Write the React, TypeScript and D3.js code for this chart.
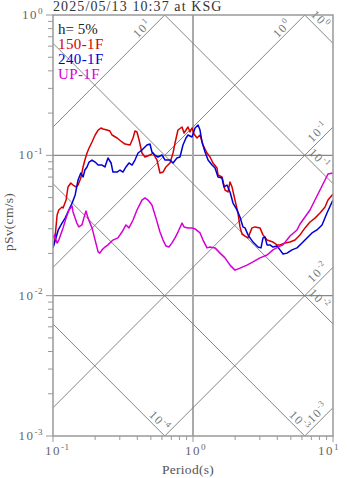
import React from "react"
import * as d3 from "d3"

// title / legend
const title = "2025/05/13 10:37 at KSG"
const dampingLabel = "h= 5%"
const seriesNames = ["150-1F", "240-1F", "UP-1F"]
const seriesColors = ["#d60000", "#0000d6", "#d600d6"]

// 150-1F (period s, pSv cm/s)
const period150 = [0.1, 0.103, 0.107, 0.110, 0.116, 0.118, 0.124, 0.128, 0.134, 0.139,
    0.146, 0.151, 0.158, 0.164, 0.169, 0.175, 0.181, 0.190, 0.200, 0.210,
    0.220, 0.228, 0.243, 0.255, 0.264, 0.287, 0.311, 0.327, 0.355, 0.373,
    0.385, 0.398, 0.412, 0.432, 0.454, 0.493, 0.518, 0.553, 0.581, 0.611,
    0.641, 0.685, 0.720, 0.744, 0.781, 0.835, 0.863, 0.921, 0.952, 0.984,
    1.017, 1.068, 1.122, 1.179, 1.259, 1.323, 1.389, 1.484, 1.509, 1.611,
    1.693, 1.778, 1.838, 1.900, 1.995, 2.096, 2.166, 2.239, 2.352, 2.471,
    2.639, 2.773, 3.010, 3.162, 3.379, 3.548, 3.728, 3.981, 4.182, 4.541,
    4.930, 5.354, 5.812, 6.310, 6.850, 7.437, 8.074, 8.770, 9.211, 10]
const sv150 = [0.0222, 0.0249, 0.0376, 0.0408, 0.0428, 0.0421, 0.048, 0.0595, 0.0635, 0.0614,
    0.0595, 0.0614, 0.0689, 0.0826, 0.0926, 0.1039, 0.1128, 0.1245, 0.1396, 0.1515,
    0.1566, 0.154, 0.1515, 0.149, 0.1396, 0.1329, 0.1245, 0.1204, 0.1185, 0.1329,
    0.149, 0.1466, 0.1286, 0.1039, 0.0973, 0.1005, 0.1039, 0.0926, 0.0748, 0.076,
    0.0826, 0.0882, 0.1039, 0.1224, 0.1515, 0.1592, 0.1442, 0.1592, 0.1466, 0.1566,
    0.1419, 0.1329, 0.1396, 0.1185, 0.1039, 0.0973, 0.0882, 0.0812, 0.0724, 0.0701,
    0.0566, 0.0548, 0.0646, 0.0595, 0.048, 0.0388, 0.0309, 0.0275, 0.0266, 0.0258,
    0.0304, 0.0309, 0.0304, 0.0271, 0.0249, 0.0245, 0.0241, 0.023, 0.023, 0.0237,
    0.0241, 0.0249, 0.0271, 0.0304, 0.0335, 0.0357, 0.0388, 0.0428, 0.048, 0.053]

// 240-1F
const period240 = [0.1, 0.103, 0.109, 0.116, 0.122, 0.128, 0.137, 0.144, 0.151, 0.158,
    0.164, 0.169, 0.175, 0.181, 0.190, 0.200, 0.210, 0.224, 0.235, 0.247,
    0.260, 0.268, 0.287, 0.301, 0.316, 0.332, 0.349, 0.367, 0.385, 0.405,
    0.432, 0.469, 0.493, 0.509, 0.534, 0.562, 0.602, 0.632, 0.685, 0.720,
    0.768, 0.807, 0.848, 0.891, 0.921, 0.984, 1.034, 1.087, 1.122, 1.160,
    1.219, 1.281, 1.368, 1.437, 1.509, 1.611, 1.665, 1.749, 1.838, 1.931,
    2.061, 2.166, 2.275, 2.352, 2.471, 2.683, 2.912, 3.060, 3.162, 3.268,
    3.379, 3.548, 3.728, 3.981, 4.182, 4.394, 4.693, 5.094, 5.533, 6.008,
    6.52, 7.08, 7.68, 8.35, 9.06, 9.84, 10]
const sv240 = [0.0219, 0.0241, 0.0294, 0.0329, 0.0357, 0.0395, 0.0457, 0.0522, 0.0667, 0.0748,
    0.0701, 0.0786, 0.0826, 0.0896, 0.0926, 0.0896, 0.0853, 0.0853, 0.0826, 0.0957,
    0.0882, 0.076, 0.076, 0.0786, 0.076, 0.0826, 0.0882, 0.0853, 0.0926, 0.1039,
    0.1091, 0.1185, 0.1204, 0.1056, 0.1005, 0.0973, 0.1005, 0.0926, 0.0926, 0.0882,
    0.0957, 0.0973, 0.1185, 0.1329, 0.1396, 0.1351, 0.1566, 0.1645, 0.1515, 0.1245,
    0.1056, 0.0926, 0.0853, 0.0812, 0.0701, 0.0689, 0.0595, 0.0614, 0.0548, 0.0457,
    0.0408, 0.0363, 0.0309, 0.0304, 0.0271, 0.0241, 0.0222, 0.0219, 0.0258, 0.0262,
    0.023, 0.023, 0.0222, 0.0226, 0.0212, 0.0198, 0.0201, 0.0212, 0.0219, 0.0237,
    0.0258, 0.028, 0.0294, 0.0319, 0.0388, 0.0465, 0.048]

// UP-1F
const periodUP = [0.1, 0.102, 0.107, 0.110, 0.118, 0.124, 0.130, 0.137, 0.139, 0.148,
    0.153, 0.161, 0.166, 0.172, 0.178, 0.190, 0.200, 0.210, 0.216, 0.224,
    0.235, 0.247, 0.268, 0.291, 0.311, 0.332, 0.349, 0.373, 0.398, 0.432,
    0.454, 0.477, 0.509, 0.544, 0.581, 0.611, 0.641, 0.673, 0.706, 0.744,
    0.781, 0.835, 0.863, 0.921, 0.984, 1.034, 1.122, 1.179, 1.259, 1.323,
    1.437, 1.56, 1.693, 1.838, 1.995, 2.166, 2.43, 2.683, 3.010, 3.379,
    3.728, 4.047, 4.394, 4.930, 5.533, 5.812, 6.850, 8.074, 8.770, 9.211,
    10]
const svUP = [0.0258, 0.0271, 0.0237, 0.0249, 0.0304, 0.0357, 0.0408, 0.0435, 0.0395, 0.0329,
    0.0309, 0.0319, 0.0357, 0.0401, 0.0357, 0.0304, 0.0249, 0.0205, 0.0201, 0.0212,
    0.0222, 0.023, 0.0249, 0.0258, 0.0284, 0.0319, 0.0304, 0.0346, 0.0408, 0.048,
    0.0497, 0.048, 0.0443, 0.0357, 0.0284, 0.0249, 0.0226, 0.0222, 0.0237, 0.0258,
    0.0284, 0.0329, 0.0309, 0.0304, 0.0304, 0.0299, 0.028, 0.0249, 0.0219, 0.0222,
    0.0219, 0.0201, 0.0186, 0.0165, 0.0152, 0.0157, 0.0165, 0.0174, 0.0186, 0.0195,
    0.0212, 0.0222, 0.023, 0.0266, 0.0294, 0.0324, 0.0408, 0.0566, 0.0667, 0.0736,
    0.0748]

// tripartite guide lines: acceleration (cm/s2) and displacement (cm)
const accLines = [10, 1, 0.1, 0.01, 0.001]
const dispLines = [1, 0.1, 0.01, 0.001, 0.0001]

const periodDomain = [0.1, 10]
const svDomain = [0.001, 1]

const W = 347, H = 478
const box = {left: 53, right: 333, top: 15, bottom: 436}

const expOf = (v: number) => String(Math.round(Math.log10(v)))

function Pow({x, y, v, anchor = "start", size = 13, fill = "#666", transform}: any) {
    return (
        <text x={x} y={y} textAnchor={anchor} fontSize={size} fill={fill} letterSpacing={1.5} transform={transform}>
            <tspan>10</tspan>
            <tspan dy={-size * 0.42} fontSize={size * 0.7} letterSpacing={0.5}>{expOf(v)}</tspan>
        </text>
    )
}

export default function App() {
    const x = d3.scaleLog().domain(periodDomain).range([box.left, box.right])
    const y = d3.scaleLog().domain(svDomain).range([box.bottom, box.top])

    const series = [
        {name: seriesNames[0], color: seriesColors[0], t: period150, s: sv150},
        {name: seriesNames[1], color: seriesColors[1], t: period240, s: sv240},
        {name: seriesNames[2], color: seriesColors[2], t: periodUP, s: svUP},
    ]

    const line = d3.line<[number, number]>().x(d => x(d[0])).y(d => y(d[1]))

    const isMajor = (v: number) => Math.abs(Math.log10(v) - Math.round(Math.log10(v))) < 1e-6
    const xTicks = x.ticks()
    const yTicks = y.ticks()

    const twoPi = 2 * Math.PI
    // acceleration: Sv = A T / 2pi  (up-right)
    const acc = accLines.map(a => {
        const t0 = Math.max(periodDomain[0], svDomain[0] * twoPi / a)
        const t1 = Math.min(periodDomain[1], svDomain[1] * twoPi / a)
        const p0 = [x(t0), y(a * t0 / twoPi)]
        const p1 = [x(t1), y(a * t1 / twoPi)]
        const atTop = t1 < periodDomain[1]
        const d = atTop ? 16 : 3, p = atTop ? 2.5 : 3.5
        const k = Math.SQRT1_2
        const lx = p1[0] - d * k - p * k
        const ly = p1[1] + d * k - p * k
        return {a, p0, p1, lx, ly}
    })
    // displacement: Sv = 2pi D / T  (down-right)
    const disp = dispLines.map(dd => {
        const t0 = Math.max(periodDomain[0], twoPi * dd / svDomain[1])
        const t1 = Math.min(periodDomain[1], twoPi * dd / svDomain[0])
        const p0 = [x(t0), y(twoPi * dd / t0)]
        const p1 = [x(t1), y(twoPi * dd / t1)]
        const atRight = t1 >= periodDomain[1]
        const d = atRight ? 16 : 3, p = atRight ? 4 : 3
        const k = Math.SQRT1_2
        const lx = p1[0] - d * k + p * k
        const ly = p1[1] - d * k - p * k
        return {dd, p0, p1, lx, ly}
    })

    return (
        <svg width={W} height={H} style={{position: "absolute", left: 0, top: 0}}
             fontFamily="'Liberation Serif', 'Times New Roman', serif">
            <defs>
                <clipPath id="plotclip">
                    <rect x={box.left} y={box.top} width={box.right - box.left} height={box.bottom - box.top}/>
                </clipPath>
            </defs>

            {/* grid at decades */}
            {yTicks.filter(v => isMajor(v) && v > svDomain[0] && v < svDomain[1]).map(v =>
                <line key={"gy" + v} x1={box.left} x2={box.right} y1={y(v)} y2={y(v)} stroke="#888" strokeWidth={1.3}/>
            )}
            {xTicks.filter(v => isMajor(v) && v > periodDomain[0] && v < periodDomain[1]).map(v =>
                <line key={"gx" + v} x1={x(v)} x2={x(v)} y1={box.top} y2={box.bottom} stroke="#aaa" strokeWidth={2}/>
            )}

            {/* tripartite lines */}
            {acc.map(l => <line key={"a" + l.a} x1={l.p0[0]} y1={l.p0[1]} x2={l.p1[0]} y2={l.p1[1]} stroke="#777" strokeWidth={0.9}/>)}
            {disp.map(l => <line key={"d" + l.dd} x1={l.p0[0]} y1={l.p0[1]} x2={l.p1[0]} y2={l.p1[1]} stroke="#777" strokeWidth={0.9}/>)}
            {acc.map(l => <Pow key={"al" + l.a} x={0} y={0} v={l.a} anchor="end" size={12} fill="#777"
                               transform={`translate(${l.lx},${l.ly}) rotate(-45)`}/>)}
            {disp.map(l => <Pow key={"dl" + l.dd} x={0} y={0} v={l.dd} anchor="end" size={12} fill="#777"
                                transform={`translate(${l.lx},${l.ly}) rotate(45)`}/>)}

            {/* spectra */}
            <g clipPath="url(#plotclip)">
                {series.map(s =>
                    <path key={s.name} d={line(s.t.map((t, i) => [t, s.s[i]] as [number, number])) || ""}
                          fill="none" stroke={s.color} strokeWidth={1.5} strokeLinejoin="round"/>
                )}
            </g>

            {/* frame */}
            <rect x={box.left} y={box.top} width={box.right - box.left} height={box.bottom - box.top}
                  fill="none" stroke="#999" strokeWidth={1.5}/>

            {/* y axis ticks */}
            {yTicks.map(v =>
                <line key={"ty" + v} x1={box.left - (isMajor(v) ? 7 : 5)} x2={box.left} y1={y(v)} y2={y(v)} stroke="#999" strokeWidth={1}/>
            )}
            {yTicks.filter(isMajor).map(v => <Pow key={"yl" + v} x={43} y={y(v) + 4} v={v} anchor="end" size={13} fill="#666"/>)}

            {/* x axis ticks */}
            {xTicks.map(v =>
                <line key={"tx" + v} x1={x(v)} x2={x(v)} y1={box.bottom} y2={box.bottom + (isMajor(v) ? 6 : 4)} stroke="#999" strokeWidth={1}/>
            )}
            {xTicks.filter(isMajor).map(v => <Pow key={"xl" + v} x={Math.min(x(v) - 8, W - 29)} y={455} v={v} size={13} fill="#666"/>)}

            <text x={188} y={474} textAnchor="middle" fontSize={13.5} fill="#555" letterSpacing={0.3}>Period(s)</text>
            <text transform="translate(13,222) rotate(-90)" textAnchor="middle" fontSize={13.5} fill="#555" letterSpacing={0.3}>pSv(cm/s)</text>

            <text x={box.left} y={11} fontSize={14} fill="#333" letterSpacing={1.1}>{title}</text>

            {/* legend */}
            <text x={58} y={34} fontSize={15} fill="#222">{dampingLabel}</text>
            {series.map((s, i) =>
                <text key={"lg" + s.name} x={58} y={49 + i * 15} fontSize={15} fill={s.color} letterSpacing={0.4}>{s.name}</text>
            )}
        </svg>
    )
}
